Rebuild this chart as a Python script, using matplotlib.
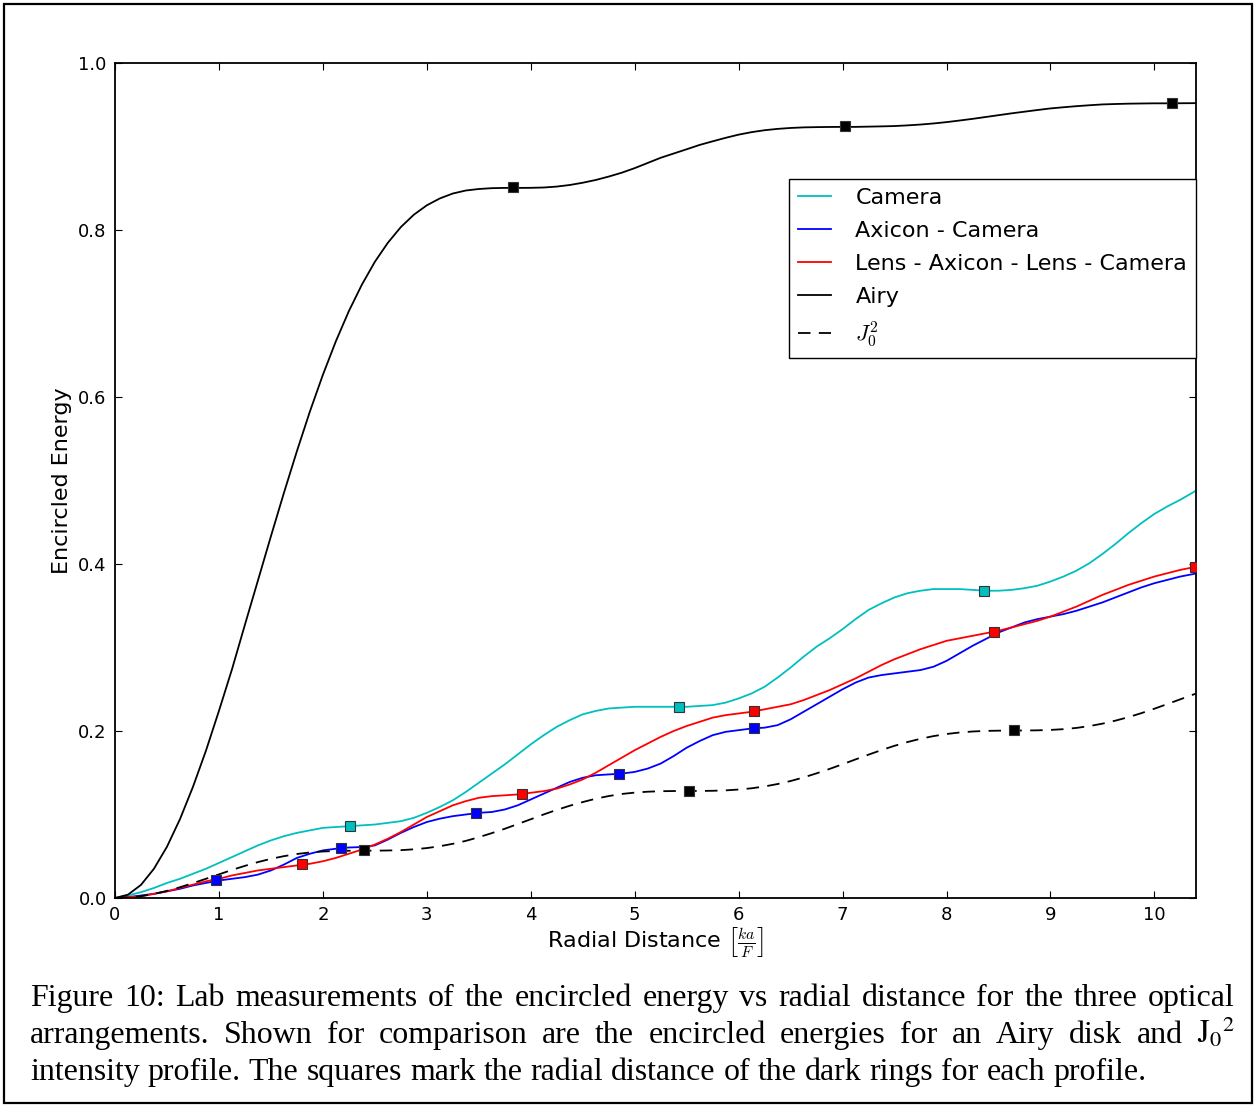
import matplotlib
matplotlib.use("Agg")
import matplotlib.pyplot as plt
from matplotlib.patches import Rectangle

plt.rcParams["mathtext.fontset"] = "cm"
plt.rcParams["lines.scale_dashes"] = False

# radial distance samples [ka/F], one row per unit
radius = [0.0, 0.125, 0.25, 0.375, 0.5, 0.625, 0.75, 0.875,
          1.0, 1.125, 1.25, 1.375, 1.5, 1.625, 1.75, 1.875,
          2.0, 2.125, 2.25, 2.375, 2.5, 2.625, 2.75, 2.875,
          3.0, 3.125, 3.25, 3.375, 3.5, 3.625, 3.75, 3.875,
          4.0, 4.125, 4.25, 4.375, 4.5, 4.625, 4.75, 4.875,
          5.0, 5.125, 5.25, 5.375, 5.5, 5.625, 5.75, 5.875,
          6.0, 6.125, 6.25, 6.375, 6.5, 6.625, 6.75, 6.875,
          7.0, 7.125, 7.25, 7.375, 7.5, 7.625, 7.75, 7.875,
          8.0, 8.125, 8.25, 8.375, 8.5, 8.625, 8.75, 8.875,
          9.0, 9.125, 9.25, 9.375, 9.5, 9.625, 9.75, 9.875,
          10.0, 10.125, 10.25, 10.375, 10.4]

# encircled energy
camera = [0.000, 0.003, 0.007, 0.012, 0.018, 0.023, 0.029, 0.035,
          0.042, 0.049, 0.056, 0.063, 0.069, 0.074, 0.078, 0.081,
          0.084, 0.085, 0.086, 0.087, 0.088, 0.090, 0.092, 0.096,
          0.102, 0.109, 0.117, 0.127, 0.138, 0.149, 0.160, 0.172,
          0.184, 0.195, 0.205, 0.213, 0.220, 0.224, 0.227, 0.228,
          0.229, 0.229, 0.229, 0.229, 0.229, 0.230, 0.231, 0.234,
          0.239, 0.245, 0.253, 0.264, 0.276, 0.289, 0.301, 0.311,
          0.322, 0.334, 0.345, 0.353, 0.360, 0.365, 0.368, 0.370,
          0.370, 0.370, 0.369, 0.368, 0.368, 0.369, 0.371, 0.374,
          0.379, 0.385, 0.392, 0.401, 0.412, 0.424, 0.437, 0.449,
          0.460, 0.469, 0.477, 0.486, 0.488]
axicon = [0.000, 0.001, 0.003, 0.005, 0.008, 0.011, 0.015, 0.018,
          0.021, 0.023, 0.025, 0.028, 0.033, 0.040, 0.048, 0.053,
          0.057, 0.059, 0.0605, 0.061, 0.063, 0.070, 0.078, 0.085,
          0.091, 0.095, 0.098, 0.100, 0.102, 0.103, 0.106, 0.111,
          0.118, 0.125, 0.132, 0.139, 0.144, 0.147, 0.148, 0.149,
          0.151, 0.155, 0.161, 0.170, 0.180, 0.188, 0.195, 0.199,
          0.201, 0.203, 0.204, 0.207, 0.214, 0.223, 0.232, 0.241,
          0.250, 0.258, 0.264, 0.267, 0.269, 0.271, 0.273, 0.277,
          0.284, 0.293, 0.302, 0.310, 0.318, 0.324, 0.330, 0.334,
          0.337, 0.340, 0.344, 0.349, 0.354, 0.360, 0.366, 0.372,
          0.377, 0.381, 0.385, 0.388, 0.389]
lens = [0.000, 0.001, 0.002, 0.005, 0.008, 0.012, 0.016, 0.020,
        0.023, 0.027, 0.030, 0.033, 0.035, 0.037, 0.039, 0.041,
        0.044, 0.048, 0.053, 0.058, 0.064, 0.071, 0.079, 0.088,
        0.097, 0.104, 0.111, 0.116, 0.120, 0.122, 0.123, 0.124,
        0.126, 0.128, 0.131, 0.136, 0.142, 0.150, 0.159, 0.168,
        0.177, 0.185, 0.193, 0.200, 0.206, 0.211, 0.216, 0.219,
        0.221, 0.223, 0.226, 0.229, 0.232, 0.237, 0.243, 0.249,
        0.256, 0.263, 0.271, 0.279, 0.286, 0.292, 0.298, 0.303,
        0.308, 0.311, 0.314, 0.317, 0.320, 0.324, 0.328, 0.332,
        0.337, 0.343, 0.349, 0.356, 0.363, 0.369, 0.375, 0.380,
        0.385, 0.389, 0.393, 0.396, 0.397]
airy = [0.0, 0.0040, 0.0157, 0.0351, 0.0614, 0.0944, 0.1331, 0.1764,
        0.2241, 0.2737, 0.3273, 0.3802, 0.4332, 0.4851, 0.5351, 0.5826,
        0.6266, 0.6668, 0.7029, 0.7345, 0.7619, 0.7847, 0.8035, 0.8183,
        0.8296, 0.8378, 0.8437, 0.8473, 0.8491, 0.8501, 0.8504, 0.8504,
        0.8505, 0.8509, 0.8520, 0.8539, 0.8566, 0.8599, 0.8640, 0.8686,
        0.8741, 0.8803, 0.8865, 0.8916, 0.8967, 0.9019, 0.9062, 0.9104,
        0.9142, 0.9172, 0.9195, 0.9211, 0.9222, 0.9229, 0.9232, 0.9234,
        0.9235, 0.9235, 0.9238, 0.9241, 0.9245, 0.9253, 0.9263, 0.9276,
        0.9292, 0.9311, 0.9331, 0.9353, 0.9375, 0.9397, 0.9417, 0.9437,
        0.9456, 0.9470, 0.9483, 0.9494, 0.9504, 0.9509, 0.9513, 0.9515,
        0.9517, 0.9517, 0.9518, 0.9519, 0.9520]
j0sq = [0.0, 0.0006, 0.0022, 0.0049, 0.0085, 0.0129, 0.0178, 0.0230,
        0.0283, 0.0336, 0.0385, 0.0430, 0.0469, 0.0501, 0.0527, 0.0545,
        0.0557, 0.0563, 0.0566, 0.0567, 0.0567, 0.0569, 0.0573, 0.0583,
        0.0598, 0.0620, 0.0649, 0.0684, 0.0728, 0.0777, 0.0829, 0.0886,
        0.0943, 0.1001, 0.1055, 0.1105, 0.1149, 0.1189, 0.1221, 0.1246,
        0.1262, 0.1273, 0.1279, 0.1281, 0.1282, 0.1282, 0.1284, 0.1289,
        0.1299, 0.1314, 0.1336, 0.1365, 0.1401, 0.1444, 0.1493, 0.1546,
        0.1602, 0.1660, 0.1717, 0.1772, 0.1823, 0.1868, 0.1907, 0.1939,
        0.1964, 0.1982, 0.1994, 0.2001, 0.2004, 0.2005, 0.2006, 0.2008,
        0.2013, 0.2022, 0.2037, 0.2059, 0.2088, 0.2124, 0.2166, 0.2214,
        0.2267, 0.2323, 0.2380, 0.2437, 0.2448]

# dark ring positions (squares)
camera_rings_x = [2.26, 5.43, 8.36]
camera_rings_y = [0.086, 0.229, 0.368]
axicon_rings_x = [0.97, 2.17, 3.47, 4.85, 6.15]
axicon_rings_y = [0.021, 0.0595, 0.102, 0.149, 0.203]
lens_rings_x = [1.80, 3.92, 6.15, 8.46, 10.39]
lens_rings_y = [0.041, 0.125, 0.224, 0.319, 0.397]
airy_rings_x = [3.83, 7.02, 10.17]
airy_rings_y = [0.851, 0.925, 0.952]
j0_rings_x = [2.40, 5.52, 8.65]
j0_rings_y = [0.057, 0.128, 0.201]

caption_lines = [
    "Figure 10: Lab measurements of the encircled energy vs radial distance for the three optical",
    "arrangements. Shown for comparison are the encircled energies for an Airy disk and $\\mathrm{J}_0{}^{2}$",
    "intensity profile. The squares mark the radial distance of the dark rings for each profile.",
]

W, H = 1254, 1105
fig = plt.figure(figsize=(W / 100, H / 100), dpi=100)
ax = fig.add_axes([115 / W, 1 - 898 / H, (1196 - 115) / W, (898 - 63) / H])

lw = 1.3
ax.plot(radius, camera, color="c", lw=lw, label="Camera")
ax.plot(radius, axicon, color="b", lw=lw, label="Axicon - Camera")
ax.plot(radius, lens, color="r", lw=lw, label="Lens - Axicon - Lens - Camera")
ax.plot(radius, airy, color="k", lw=lw, label="Airy")
ax.plot(radius, j0sq, color="k", lw=lw, dashes=(9, 6), label="$J_0^2$")

mk = dict(ls="none", marker="s", ms=6.5, mew=0.8, mec="#333333", zorder=5)
ax.plot(camera_rings_x, camera_rings_y, mfc="c", **mk)
ax.plot(axicon_rings_x, axicon_rings_y, mfc="b", **mk)
ax.plot(lens_rings_x, lens_rings_y, mfc="r", **mk)
ax.plot(airy_rings_x, airy_rings_y, mfc="k", **mk)
ax.plot(j0_rings_x, j0_rings_y, mfc="k", **mk)

ax.set_xlim(0, 10.4)
ax.set_ylim(0, 1.0)
ax.set_xticks(range(0, 11))
ax.set_yticks([0.0, 0.2, 0.4, 0.6, 0.8, 1.0])
ax.set_yticklabels(["0.0", "0.2", "0.4", "0.6", "0.8", "1.0"])
ax.tick_params(direction="in", length=5, width=0.8, top=True, right=True,
               labelsize=13, pad=6)
for s in ax.spines.values():
    s.set_linewidth(1.3)

ax.set_ylabel("Encircled Energy", fontsize=16)
ax.set_xlabel(r"Radial Distance $\left[\frac{ka}{F}\right]$", fontsize=16)
ax.yaxis.set_label_coords(-0.0398, 0.5)
ax.xaxis.set_label_coords(0.5, -0.032)

leg = ax.legend(loc="upper right", bbox_to_anchor=(1.0, (898 - 179) / 835), borderaxespad=0,
                fontsize=16, handlelength=1.5, handletextpad=1.08, labelspacing=0.58,
                borderpad=0.4, fancybox=False, framealpha=1)
leg.get_frame().set_edgecolor("k")
leg.get_frame().set_linewidth(1.0)

# outer frame
fig.patches.append(Rectangle((4 / W, 2 / H), 1248 / W, 1099 / H, transform=fig.transFigure,
                             fill=False, lw=1.6, ec="k"))

# justified caption
fig.canvas.draw()
renderer = fig.canvas.get_renderer()
cap_font = dict(family="Liberation Serif", math_fontfamily="stix", va="baseline", ha="left")

probe = fig.text(0, 0, caption_lines[2], fontsize=20, **cap_font)
w20 = probe.get_window_extent(renderer).width
probe.remove()
fs = 20 * (1147 - 30) / w20

x_left, x_right = 30, 1235
baselines = [1006, 1043, 1080]
for i, line in enumerate(caption_lines):
    words = line.split(" ")
    texts = [fig.text(0, 1 - baselines[i] / H, w, fontsize=fs, **cap_font) for w in words]
    widths = [t.get_window_extent(renderer).width for t in texts]
    if i < 2:
        gap = (x_right - x_left - sum(widths)) / (len(words) - 1)
    else:
        gap = fs * 100 / 72 * 0.25
    xpos = x_left
    for t, w in zip(texts, widths):
        t.set_x(xpos / W)
        xpos += w + gap

fig.savefig("out.png", dpi=100)
